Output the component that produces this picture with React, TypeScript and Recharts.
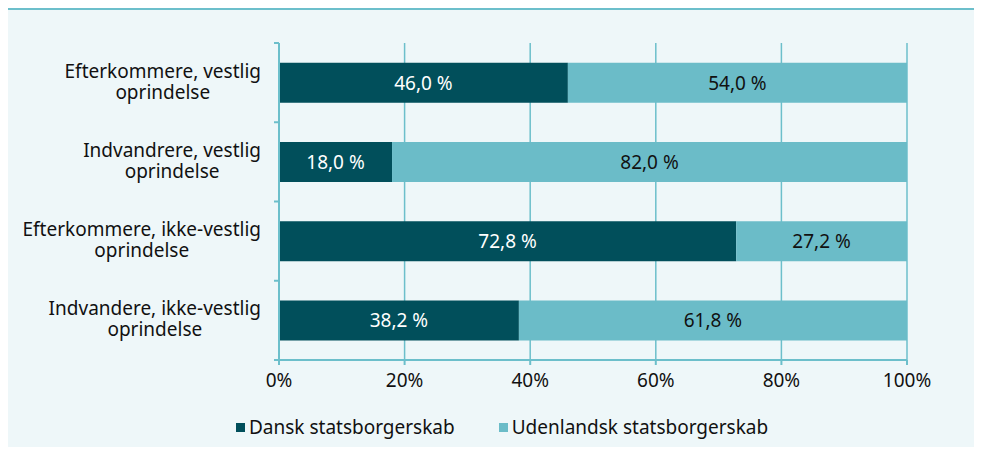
import { BarChart, Bar, XAxis, YAxis, CartesianGrid, LabelList, ReferenceLine } from 'recharts';

const categories = [
  'Efterkommere, vestlig|oprindelse',
  'Indvandrere, vestlig|oprindelse',
  'Efterkommere, ikke-vestlig|oprindelse',
  'Indvandere, ikke-vestlig|oprindelse',
];
const dansk = [46.0, 18.0, 72.8, 38.2];
const udenlandsk = [54.0, 82.0, 27.2, 61.8];
const xTicks = [0, 20, 40, 60, 80, 100];

const DARK = '#014f5b';
const LIGHT = '#6bbcc8';
const LINE = '#6cbfcb';
const BG = '#eef7f9';
const FONT = '"Noto Sans", sans-serif';
const FS = 19;

const data = categories.map((name, i) => ({ name, dansk: dansk[i], udenlandsk: udenlandsk[i] }));

let ctx: CanvasRenderingContext2D | null = null;
const measure = (s: string) => {
  if (!ctx) ctx = document.createElement('canvas').getContext('2d');
  if (!ctx) return s.length * 10;
  ctx.font = `${FS}px ${FONT}`;
  return ctx.measureText(s).width;
};

// two-line y label, lines centred on each other, block right-aligned
const CatTick = (props: any) => {
  const { x, y, payload } = props;
  const [l1, l2] = String(payload.value).split('|');
  const w = Math.max(measure(l1), measure(l2));
  const cx = x - 10 - w / 2;
  return (
    <text fontFamily={FONT} fontSize={FS} fill="#111" textAnchor="middle">
      <tspan x={cx} y={y - 5}>{l1}</tspan>
      <tspan x={cx} y={y + 16}>{l2}</tspan>
    </text>
  );
};

const fmt = (v: any) => `${Number(v).toFixed(1).replace('.', ',')} %`;

export default function App() {
  return (
    <div style={{ position: 'relative', width: 982, height: 455, margin: -8, background: '#fff', overflow: 'hidden', fontFamily: FONT }}>
      <div style={{ position: 'absolute', left: 8, top: -23, fontSize: 19, fontWeight: 700, color: '#111', whiteSpace: 'nowrap' }}>
        Statsborgerskab, pct
      </div>
      <div style={{ position: 'absolute', left: 7, top: 8, right: 0, bottom: 0, background: BG, borderTop: `2px solid ${LINE}` }} />
      <div style={{ position: 'absolute', left: 0, top: 0 }}>
        <BarChart
          width={982}
          height={455}
          layout="vertical"
          data={data}
          margin={{ top: 43, right: 75, bottom: 65, left: 0 }}
          barCategoryGap="25%"
        >
          <CartesianGrid horizontal={false} vertical stroke={LINE} strokeWidth={1.5} />
          <XAxis
            type="number"
            domain={[0, 100]}
            ticks={xTicks}
            tickFormatter={(v) => `${v}%`}
            axisLine={{ stroke: LINE, strokeWidth: 2 }}
            tickLine={{ stroke: LINE, strokeWidth: 2 }}
            tickSize={5}
            tickMargin={9}
            height={30}
            tick={{ fill: '#111', fontSize: FS, fontFamily: FONT }}
            interval={0}
          />
          <YAxis
            type="category"
            dataKey="name"
            width={279}
            axisLine={{ stroke: LINE, strokeWidth: 2 }}
            tickLine={false}
            tick={<CatTick />}
            interval={0}
          />
          {categories.map((c) => (
            <ReferenceLine
              key={c}
              segment={[{ x: -0.8, y: c }, { x: 0, y: c }]}
              position="start"
              ifOverflow="visible"
              stroke={LINE}
              strokeWidth={2}
            />
          ))}
          <ReferenceLine
            segment={[{ x: -0.8, y: categories[3] }, { x: 0, y: categories[3] }]}
            position="end"
            ifOverflow="visible"
            stroke={LINE}
            strokeWidth={2}
          />
          <Bar dataKey="dansk" stackId="a" fill={DARK} isAnimationActive={false}>
            <LabelList dataKey="dansk" position="center" formatter={fmt} fill="#fff" fontSize={FS} fontFamily={FONT} />
          </Bar>
          <Bar dataKey="udenlandsk" stackId="a" fill={LIGHT} isAnimationActive={false}>
            <LabelList dataKey="udenlandsk" position="center" formatter={fmt} fill="#111" fontSize={FS} fontFamily={FONT} />
          </Bar>
        </BarChart>
      </div>
      <div style={{ position: 'absolute', left: 236, top: 414, display: 'flex', alignItems: 'center', fontSize: FS, color: '#111' }}>
        <span style={{ width: 9, height: 9, background: DARK, display: 'inline-block', marginRight: 4 }} />
        <span>Dansk statsborgerskab</span>
        <span style={{ width: 9, height: 9, background: LIGHT, display: 'inline-block', marginLeft: 44, marginRight: 4 }} />
        <span>Udenlandsk statsborgerskab</span>
      </div>
    </div>
  );
}
